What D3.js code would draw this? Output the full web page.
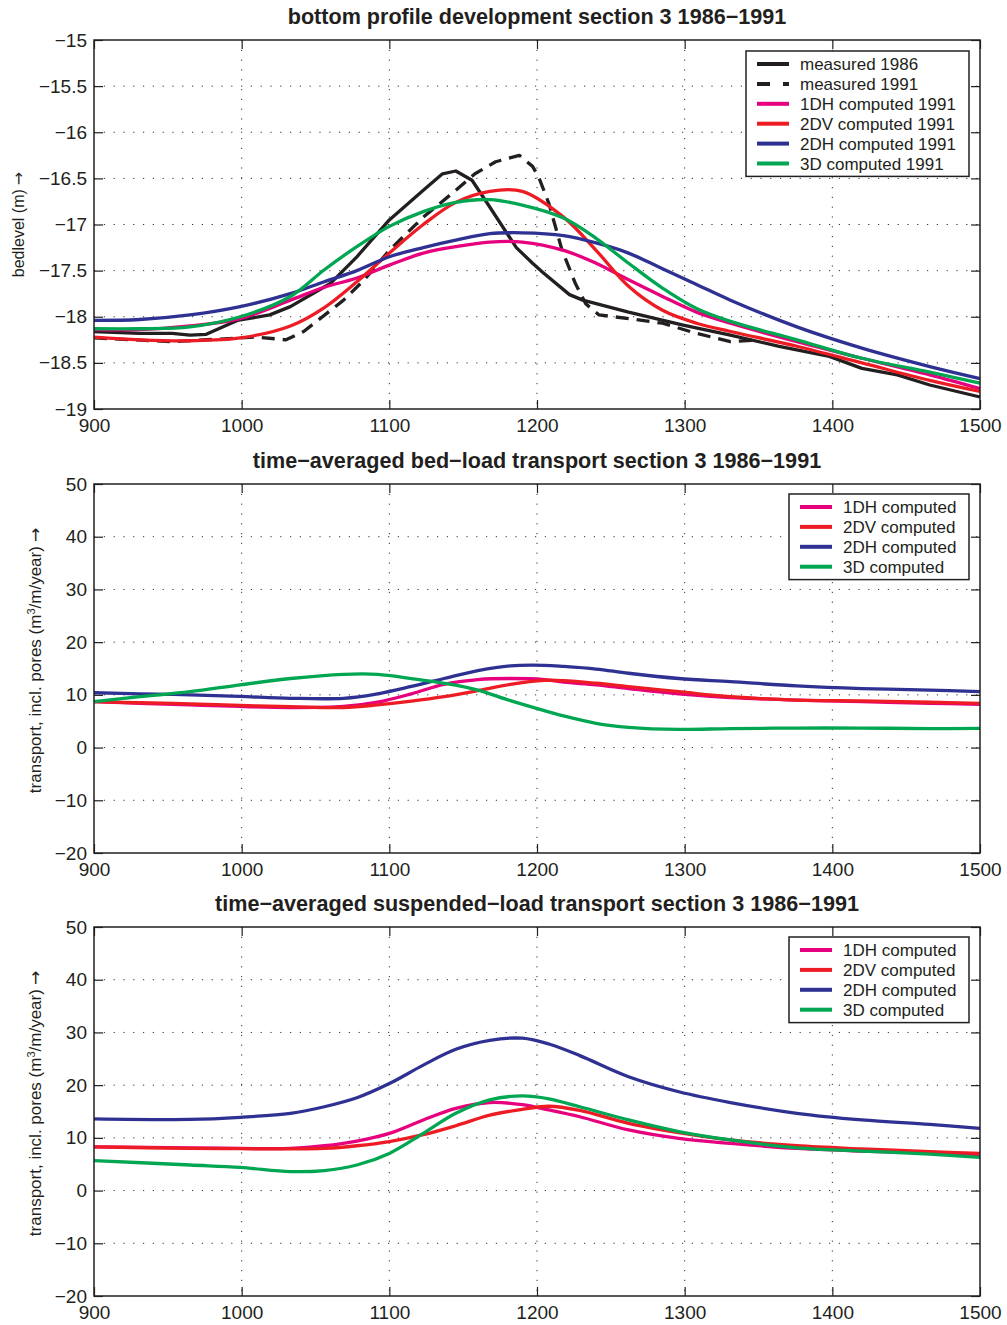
<!DOCTYPE html>
<html>
<head>
<meta charset="utf-8">
<script src="https://cdn.jsdelivr.net/npm/d3@7/dist/d3.min.js"></script>
<style>
  body { margin: 0; background: #fff; }
  svg { font-family: "Liberation Sans", Arial, Helvetica, sans-serif; }
</style>
</head>
<body>
<div id="chart-container"></div>
<script>
// ---- data ----
const xTicks = [900, 1000, 1100, 1200, 1300, 1400, 1500];

// panel 1: bed level (m)
const m1986X = [900, 931, 953, 965, 976, 997, 1019, 1033, 1060, 1078, 1100, 1123, 1136, 1145, 1156, 1168, 1186, 1197, 1204, 1222, 1231, 1262, 1299, 1331, 1364, 1398, 1420, 1444, 1466, 1500];
const m1986Y = [-18.16, -18.18, -18.18, -18.2, -18.19, -18.04, -17.98, -17.89, -17.64, -17.35, -16.95, -16.63, -16.45, -16.42, -16.52, -16.81, -17.25, -17.42, -17.52, -17.76, -17.82, -17.95, -18.09, -18.2, -18.32, -18.43, -18.56, -18.63, -18.74, -18.87];
const m1991X = [900, 953, 1010, 1030, 1042, 1069, 1083, 1100, 1123, 1145, 1158, 1172, 1188, 1197, 1201, 1208, 1217, 1226, 1233, 1242, 1262, 1285, 1308, 1331, 1350];
const m1991Y = [-18.23, -18.27, -18.22, -18.25, -18.16, -17.82, -17.6, -17.28, -16.92, -16.63, -16.45, -16.32, -16.25, -16.37, -16.48, -16.77, -17.28, -17.64, -17.86, -17.98, -18.02, -18.07, -18.18, -18.27, -18.25];
const bedX = [900, 931, 965, 999, 1033, 1056, 1078, 1100, 1123, 1145, 1168, 1190, 1218, 1240, 1262, 1285, 1308, 1331, 1376, 1420, 1466, 1500];
const bed1DH = [-18.14, -18.14, -18.1, -18.02, -17.82, -17.68, -17.58, -17.44, -17.31, -17.24, -17.19, -17.19, -17.28, -17.42, -17.6, -17.78, -17.95, -18.07, -18.27, -18.45, -18.63, -18.78];
const bed2DV = [-18.22, -18.25, -18.26, -18.23, -18.1, -17.9, -17.62, -17.31, -17.0, -16.76, -16.64, -16.64, -16.92, -17.28, -17.67, -17.93, -18.07, -18.16, -18.32, -18.5, -18.69, -18.81];
const bed2DH = [-18.04, -18.03, -17.98, -17.89, -17.75, -17.62, -17.5, -17.35, -17.25, -17.17, -17.1, -17.09, -17.12, -17.2, -17.31, -17.48, -17.65, -17.82, -18.11, -18.34, -18.54, -18.67];
const bed3D = [-18.13, -18.13, -18.11, -18.0, -17.78, -17.49, -17.24, -17.02, -16.86, -16.76, -16.73, -16.79, -16.93, -17.15, -17.42, -17.69, -17.91, -18.05, -18.25, -18.45, -18.6, -18.72];

// panel 2: bed-load transport
const bedloadX = [900, 931, 965, 999, 1033, 1069, 1092, 1115, 1137, 1160, 1182, 1205, 1218, 1240, 1262, 1296, 1331, 1376, 1420, 1466, 1500];
const bl1DH = [8.7, 8.4, 8.1, 7.8, 7.6, 7.8, 8.6, 10.2, 12.0, 12.9, 13.1, 12.9, 12.4, 11.9, 11.2, 10.2, 9.5, 9.0, 8.7, 8.4, 8.2];
const bl2DV = [8.7, 8.5, 8.3, 8.0, 7.75, 7.6, 8.1, 8.8, 9.65, 10.8, 12.0, 12.75, 12.7, 12.2, 11.55, 10.6, 9.65, 9.0, 8.85, 8.6, 8.4];
const bl2DH = [10.4, 10.2, 10.0, 9.7, 9.35, 9.35, 10.2, 11.6, 13.1, 14.6, 15.5, 15.6, 15.4, 14.9, 14.1, 13.1, 12.5, 11.7, 11.2, 10.9, 10.6];
const bl3D = [8.7, 9.65, 10.6, 11.9, 13.1, 13.9, 13.9, 13.1, 12.2, 10.9, 8.9, 7.0, 6.0, 4.6, 3.85, 3.45, 3.6, 3.7, 3.7, 3.6, 3.65];

// panel 3: suspended-load transport
const suspX = [900, 965, 999, 1033, 1056, 1078, 1100, 1123, 1145, 1168, 1190, 1208, 1229, 1262, 1296, 1331, 1376, 1420, 1466, 1500];
const sl1DH = [8.3, 8.1, 8.0, 8.0, 8.5, 9.4, 10.85, 13.4, 15.6, 16.7, 16.3, 15.3, 14.0, 11.5, 9.9, 8.95, 8.0, 7.5, 7.1, 6.7];
const sl2DV = [8.3, 8.0, 7.95, 7.9, 8.0, 8.5, 9.3, 10.6, 12.3, 14.3, 15.4, 16.0, 15.2, 12.75, 11.0, 9.6, 8.5, 7.9, 7.4, 7.05];
const sl2DH = [13.6, 13.5, 13.9, 14.65, 15.9, 17.6, 20.3, 23.8, 26.8, 28.5, 28.9, 27.8, 25.6, 21.6, 18.75, 16.7, 14.65, 13.4, 12.55, 11.8];
const sl3D = [5.7, 4.85, 4.4, 3.6, 3.8, 4.85, 7.05, 10.85, 14.65, 17.2, 17.95, 17.4, 15.9, 13.4, 11.2, 9.6, 8.1, 7.5, 6.9, 6.3];

const bedTicks = [-19, -18.5, -18, -17.5, -17, -16.5, -16, -15.5, -15];
const transportTicks = [-20, -10, 0, 10, 20, 30, 40, 50];

const colors = { m1986: "#231f20", m1991: "#231f20", "1DH": "#e6007e", "2DV": "#ed1c24", "2DH": "#2e3192", "3D": "#00a651" };

// ---- layout ----
const width = 1007, height = 1325;
const left = 94, right = 980;
const panelH = 369;

const svg = d3.select("#chart-container")
    .append("svg")
    .attr("width", width)
    .attr("height", height);

svg.append("rect").attr("width", width).attr("height", height).attr("fill", "#fff");

const x = d3.scaleLinear().domain([900, 1500]).range([left, right]);
const fmt = d => String(d).replace("-", "\u2212");

function drawPanel(p) {
    const y = d3.scaleLinear().domain(p.yDomain).range([p.top + panelH, p.top]);
    const g = svg.append("g");

    // dotted grid
    const grid = g.append("g").attr("stroke", "#333").attr("stroke-width", 1).attr("stroke-dasharray", "1.2,8.6");
    grid.selectAll("line.v")
        .data(xTicks.slice(1, -1))
        .join("line")
        .attr("x1", d => x(d)).attr("x2", d => x(d))
        .attr("y1", p.top).attr("y2", p.top + panelH);
    grid.selectAll("line.h")
        .data(p.yTicks.slice(1, -1))
        .join("line")
        .attr("x1", left).attr("x2", right)
        .attr("y1", d => y(d)).attr("y2", d => y(d));

    // axes with inward ticks
    g.append("g")
        .attr("transform", `translate(0,${p.top + panelH})`)
        .call(d3.axisBottom(x).tickValues(xTicks).tickSizeInner(-9).tickSizeOuter(0).tickPadding(10).tickFormat(fmt));
    g.append("g")
        .attr("transform", `translate(${left},0)`)
        .call(d3.axisLeft(y).tickValues(p.yTicks).tickSizeInner(-9).tickSizeOuter(0).tickPadding(7).tickFormat(fmt));
    g.append("g").attr("transform", `translate(0,${p.top})`)
        .call(d3.axisTop(x).tickValues(xTicks).tickSizeInner(-9).tickSizeOuter(0).tickFormat(""));
    g.append("g").attr("transform", `translate(${right},0)`)
        .call(d3.axisRight(y).tickValues(p.yTicks).tickSizeInner(-9).tickSizeOuter(0).tickFormat(""));
    g.selectAll(".domain").remove();
    g.selectAll(".tick line").attr("stroke", "#231f20").attr("stroke-width", 1.2);
    g.selectAll(".tick text").attr("font-size", 19).attr("fill", "#231f20").attr("font-family", null);

    // series
    const line = d3.line().x(d => x(d[0])).y(d => y(d[1]));
    p.series.forEach(s => {
        const pts = s.x.map((v, i) => [v, s.y[i]]);
        g.append("path")
            .datum(pts)
            .attr("fill", "none")
            .attr("stroke", s.color)
            .attr("stroke-width", 3.3)
            .attr("stroke-linejoin", "round")
            .attr("stroke-dasharray", s.dash || null)
            .attr("d", line.curve(s.smooth ? d3.curveCatmullRom.alpha(0.5) : d3.curveLinear)(pts));
    });

    // frame
    g.append("rect")
        .attr("x", left).attr("y", p.top)
        .attr("width", right - left).attr("height", panelH)
        .attr("fill", "none").attr("stroke", "#231f20").attr("stroke-width", 1.5);

    // title
    svg.append("text")
        .attr("x", (left + right) / 2).attr("y", p.top - 16)
        .attr("text-anchor", "middle")
        .attr("font-size", 21.6).attr("font-weight", "bold").attr("fill", "#231f20")
        .text(p.title);

    // y label
    const yl = svg.append("text")
        .attr("transform", `translate(${p.labelX},${p.top + panelH / 2 + p.labelShift}) rotate(-90)`)
        .attr("text-anchor", "middle")
        .attr("font-size", p.labelSize).attr("fill", "#231f20");
    p.label.forEach(part => {
        const t = yl.append("tspan").text(part.t);
        if (part.sup) t.attr("baseline-shift", "super").attr("font-size", 11);
    });
    yl.append("tspan").attr("font-family", "DejaVu Sans").attr("dx", 4).text("\u2192");

    // legend
    const lg = svg.append("g").attr("transform", `translate(${p.legend.x},${p.top + p.legend.dy})`);
    const rowH = 19.9;
    lg.append("rect")
        .attr("width", p.legend.w).attr("height", p.series.length * rowH + 6)
        .attr("fill", "#fff").attr("stroke", "#231f20").attr("stroke-width", 1.5);
    const rows = lg.selectAll("g.row")
        .data(p.series)
        .join("g")
        .attr("transform", (d, i) => `translate(0,${13 + i * rowH})`);
    rows.append("line")
        .attr("x1", 11).attr("x2", 43)
        .attr("stroke", d => d.color).attr("stroke-width", 4)
        .attr("stroke-dasharray", d => d.dash ? "13,13" : null);
    rows.append("text")
        .attr("x", 54).attr("dy", "0.36em")
        .attr("font-size", 17).attr("fill", "#231f20")
        .text(d => d.name);
}

const transportLabel = [{ t: "transport, incl. pores (m" }, { t: "3", sup: true }, { t: "/m/year)" }];

drawPanel({
    top: 40,
    yDomain: [-19, -15],
    yTicks: bedTicks,
    title: "bottom profile development section 3 1986\u22121991",
    label: [{ t: "bedlevel (m)" }],
    labelX: 24, labelShift: 0, labelSize: 16,
    legend: { x: 746, dy: 11, w: 223 },
    series: [
        { name: "measured 1986", x: m1986X, y: m1986Y, color: colors.m1986 },
        { name: "measured 1991", x: m1991X, y: m1991Y, color: colors.m1991, dash: "13,8" },
        { name: "1DH computed 1991", x: bedX, y: bed1DH, color: colors["1DH"], smooth: true },
        { name: "2DV computed 1991", x: bedX, y: bed2DV, color: colors["2DV"], smooth: true },
        { name: "2DH computed 1991", x: bedX, y: bed2DH, color: colors["2DH"], smooth: true },
        { name: "3D computed 1991", x: bedX, y: bed3D, color: colors["3D"], smooth: true }
    ]
});

drawPanel({
    top: 484,
    yDomain: [-20, 50],
    yTicks: transportTicks,
    title: "time\u2212averaged bed\u2212load transport section 3 1986\u22121991",
    label: transportLabel,
    labelX: 41, labelShift: -8, labelSize: 17,
    legend: { x: 789, dy: 10, w: 180 },
    series: [
        { name: "1DH computed", x: bedloadX, y: bl1DH, color: colors["1DH"], smooth: true },
        { name: "2DV computed", x: bedloadX, y: bl2DV, color: colors["2DV"], smooth: true },
        { name: "2DH computed", x: bedloadX, y: bl2DH, color: colors["2DH"], smooth: true },
        { name: "3D computed", x: bedloadX, y: bl3D, color: colors["3D"], smooth: true }
    ]
});

drawPanel({
    top: 927,
    yDomain: [-20, 50],
    yTicks: transportTicks,
    title: "time\u2212averaged suspended\u2212load transport section 3 1986\u22121991",
    label: transportLabel,
    labelX: 41, labelShift: -8, labelSize: 17,
    legend: { x: 789, dy: 10, w: 180 },
    series: [
        { name: "1DH computed", x: suspX, y: sl1DH, color: colors["1DH"], smooth: true },
        { name: "2DV computed", x: suspX, y: sl2DV, color: colors["2DV"], smooth: true },
        { name: "2DH computed", x: suspX, y: sl2DH, color: colors["2DH"], smooth: true },
        { name: "3D computed", x: suspX, y: sl3D, color: colors["3D"], smooth: true }
    ]
});
</script>
</body>
</html>
